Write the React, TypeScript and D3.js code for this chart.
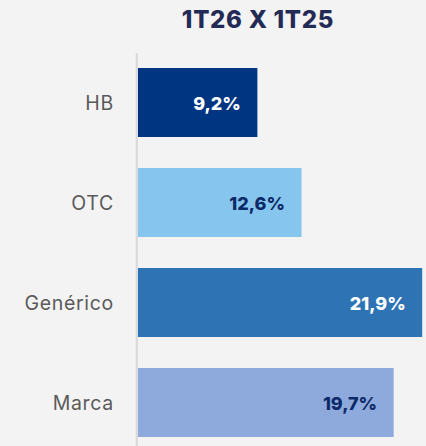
import React from "react";
import * as d3 from "d3";

const categories = ["HB", "OTC", "Genérico", "Marca"];
const values = [9.2, 12.6, 21.9, 19.7];
const labels = ["9,2%", "12,6%", "21,9%", "19,7%"];
const title = "1T26 X 1T25";

const barColors = ["#003582", "#86c6ee", "#2e74b5", "#8eaadd"];
const textColors = ["#ffffff", "#0d2a68", "#ffffff", "#0d2a68"];

const width = 426;
const height = 446;

export default function App() {
  const x = d3.scaleLinear().domain([0, 22]).range([138, 423.5]);
  const y = d3
    .scaleBand<string>()
    .domain(categories)
    .range([52.5, 452.5])
    .paddingInner(0.31)
    .paddingOuter(0.155);

  return (
    <svg
      width={width}
      height={height}
      style={{ position: "absolute", top: 0, left: 0, background: "#f3f3f3" }}
    >
      <rect x={0} y={0} width={width} height={height} fill="#f3f3f3" />
      <text
        x={258}
        y={28}
        textAnchor="middle"
        fontFamily="Inter, sans-serif"
        fontWeight={800}
        fontSize={24}
        letterSpacing={0.7}
        fill="#232a55"
      >
        {title}
      </text>
      <line x1={136.8} x2={136.8} y1={53} y2={height} stroke="#d9d9d9" strokeWidth={2} />
      {categories.map((c, i) => {
        const by = y(c) as number;
        const cy = by + y.bandwidth() / 2;
        return (
          <g key={c}>
            <rect
              x={x(0)}
              y={by}
              width={x(values[i]) - x(0)}
              height={y.bandwidth()}
              fill={barColors[i]}
            />
            <text
              x={114}
              y={cy}
              dominantBaseline="central"
              textAnchor="end"
              fontFamily="Inter, sans-serif"
              fontSize={19.5}
              letterSpacing={0.7}
              fill="#5a5a5a"
            >
              {c}
            </text>
            <text
              x={x(values[i]) - 16.5}
              y={cy + 1}
              dominantBaseline="central"
              textAnchor="end"
              fontFamily="Inter, sans-serif"
              fontWeight={800}
              fontSize={18}
              fill={textColors[i]}
            >
              {labels[i]}
            </text>
          </g>
        );
      })}
    </svg>
  );
}
